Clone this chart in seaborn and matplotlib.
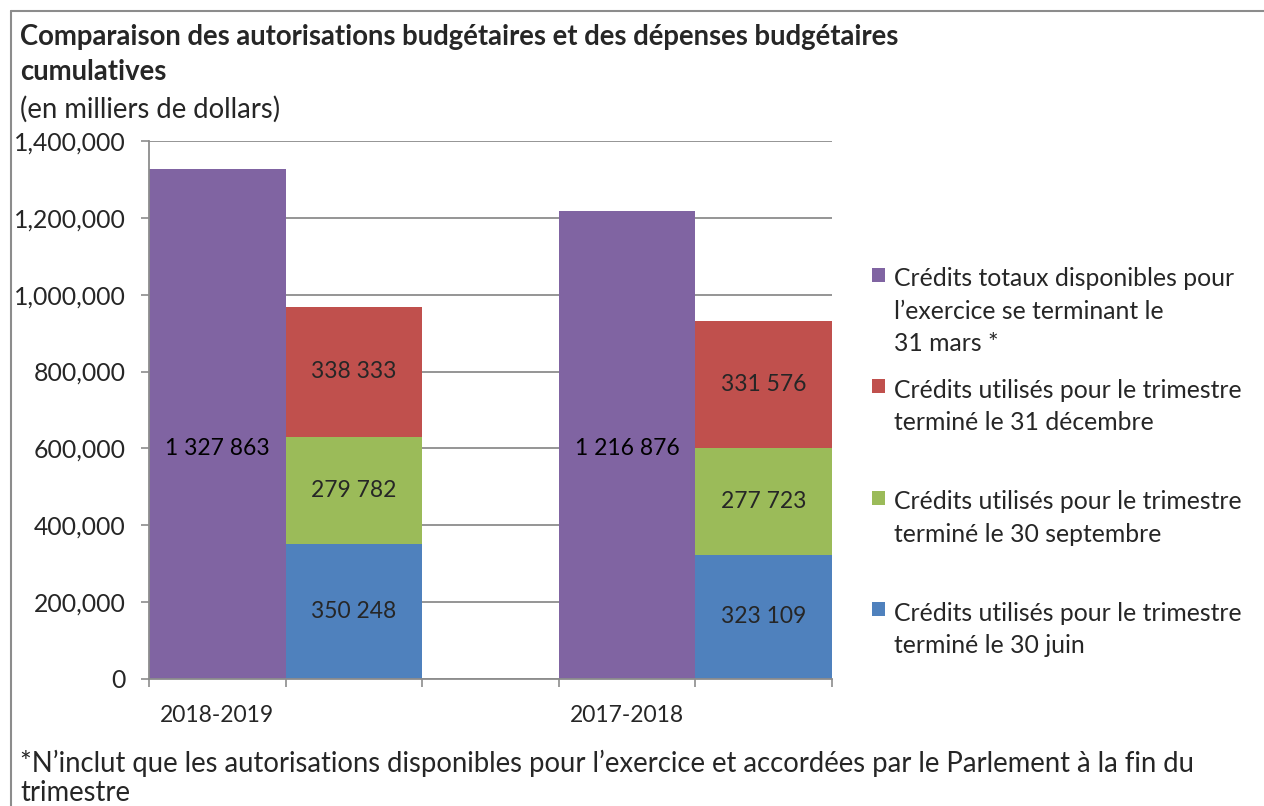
import numpy as np
import pandas as pd
import matplotlib
matplotlib.use("Agg")
import matplotlib.pyplot as plt
import seaborn as sns
from matplotlib.patches import Rectangle
from matplotlib.legend_handler import HandlerBase

# ---- data ----
years = ["2018-2019", "2017-2018"]
credits_totaux = [1327863, 1216876]
credits_juin = [350248, 323109]
credits_sept = [279782, 277723]
credits_dec = [338333, 331576]
y_ticks = [0, 200000, 400000, 600000, 800000, 1000000, 1200000, 1400000]

legend_labels = [
    "Crédits totaux disponibles pour\nl\u2019exercice se terminant le\n31 mars *",
    "Crédits utilisés pour le trimestre\nterminé le 31 décembre",
    "Crédits utilisés pour le trimestre\nterminé le 30 septembre",
    "Crédits utilisés pour le trimestre\nterminé le 30 juin",
]
c_purple, c_red, c_green, c_blue = "#8064A2", "#C0504D", "#9BBB59", "#4F81BD"

sns.set_theme(style="white")
plt.rcParams["font.family"] = ["Lato", "DejaVu Sans"]

fig = plt.figure(figsize=(12.64, 8.06), dpi=100)
ax = fig.add_axes([149 / 1264, 1 - 679 / 806, (832 - 149) / 1264, (679 - 141) / 806])

# slots: total bar, stacked bar, gap, total bar, stacked bar
slots = ["T0", "U0", "gap", "T1", "U1"]
tot_slots = ["T0", "T1"]
use_slots = ["U0", "U1"]

df_tot = pd.DataFrame({"slot": tot_slots, "val": credits_totaux})
juin = np.array(credits_juin)
sept = np.array(credits_sept)
dec = np.array(credits_dec)
df_stack = pd.DataFrame({
    "slot": use_slots,
    "juin": juin,
    "sept": juin + sept,
    "dec": juin + sept + dec,
})

common = dict(order=slots, width=1.0, errorbar=None, linewidth=0, ax=ax, zorder=3)
sns.barplot(data=df_tot, x="slot", y="val", color=c_purple, saturation=1, **common)
sns.barplot(data=df_stack, x="slot", y="dec", color=c_red, saturation=1, **common)
sns.barplot(data=df_stack, x="slot", y="sept", color=c_green, saturation=1, **common)
sns.barplot(data=df_stack, x="slot", y="juin", color=c_blue, saturation=1, **common)

def fmt(v):
    return f"{v:,}".replace(",", " ")

fs_lab = 16.5
fs_tick = 17.8
fs_title = 19.8
for i, s in enumerate(tot_slots):
    ax.text(slots.index(s), 600000, fmt(credits_totaux[i]), ha="center", va="center",
            fontsize=fs_lab, color="black", zorder=5)
for i, s in enumerate(use_slots):
    x = slots.index(s)
    ax.text(x, juin[i] / 2, fmt(juin[i]), ha="center", va="center", fontsize=fs_lab, zorder=5)
    ax.text(x, juin[i] + sept[i] / 2, fmt(sept[i]), ha="center", va="center", fontsize=fs_lab, zorder=5)
    ax.text(x, juin[i] + sept[i] + dec[i] / 2, fmt(dec[i]), ha="center", va="center", fontsize=fs_lab, zorder=5)

ax.set_xlim(-0.5, 4.5)
ax.set_ylim(0, 1400000)
ax.set_yticks(y_ticks)
ax.set_yticklabels([f"{v:,}" for v in y_ticks], fontsize=fs_tick)
ax.set_xticks(np.arange(-0.5, 5, 1.0))
ax.set_xticklabels([""] * 6)
ax.set_xticks([slots.index("T0"), slots.index("T1")], minor=True)
ax.set_xticklabels(years, minor=True, fontsize=fs_lab)
ax.tick_params(axis="x", which="minor", length=0, pad=19)
ax.tick_params(axis="x", which="major", length=6, width=1.2, color="#8c8c8c", direction="out", bottom=True)
ax.tick_params(axis="y", length=6, width=1.2, color="#8c8c8c", direction="out", left=True, pad=11)
ax.set_xlabel("")
ax.set_ylabel("")
ax.grid(axis="y", color="#8c8c8c", linewidth=1.3, zorder=0)
ax.set_axisbelow(True)
for sp in ["top", "right"]:
    ax.spines[sp].set_visible(False)
for sp in ["left", "bottom"]:
    ax.spines[sp].set_color("#8c8c8c")
    ax.spines[sp].set_linewidth(1.3)
    ax.spines[sp].set_zorder(4)

# legend with squares aligned to first line
class TopSquare(HandlerBase):
    def __init__(self, shift):
        super().__init__()
        self.shift = shift
    def create_artists(self, legend, orig_handle, xdescent, ydescent, width, height, fontsize, trans):
        size = fontsize * 0.56
        y0 = -ydescent + (height - size) / 2 + self.shift * fontsize
        r = Rectangle((width - size, y0), size, size, facecolor=orig_handle.get_facecolor(),
                      edgecolor="none", transform=trans)
        return [r]

handles = [Rectangle((0, 0), 1, 1, color=c) for c in [c_purple, c_red, c_green, c_blue]]
labs = [legend_labels[0]] + [l + "\n " for l in legend_labels[1:]]
leg = fig.legend(handles, labs, loc="upper left", bbox_to_anchor=(852 / 1264, 1 - 255 / 806),
                 frameon=False, fontsize=fs_tick, handlelength=0.85, handletextpad=0.35,
                 labelspacing=0.95, borderpad=0,
                 handler_map={h: TopSquare(1.52) for h in handles})
for t in leg.get_texts():
    t.set_linespacing(1.5)

# titles and note
fig.text(20 / 1264, 1 - 37 / 806, "Comparaison des autorisations budgétaires et des dépenses budgétaires",
         fontsize=fs_title, fontweight="bold", va="center", ha="left")
fig.text(20 / 1264, 1 - 72 / 806, "cumulatives", fontsize=fs_title, fontweight="bold", va="center", ha="left")
fig.text(20 / 1264, 1 - 109 / 806, "(en milliers de dollars)", fontsize=fs_title, va="center", ha="left")
fig.text(20 / 1264, 1 - 763 / 806,
         "*N\u2019inclut que les autorisations disponibles pour l\u2019exercice et accordées par le Parlement à la fin du",
         fontsize=fs_title, va="center", ha="left")
fig.text(20 / 1264, 1 - 793 / 806, "trimestre", fontsize=fs_title, va="center", ha="left")

# outer frame (top and left only visible)
fig.add_artist(plt.Line2D([11 / 1264, 1.0], [1 - 11 / 806, 1 - 11 / 806], color="#8c8c8c", lw=1.5,
                          transform=fig.transFigure))
fig.add_artist(plt.Line2D([11 / 1264, 11 / 1264], [0, 1 - 11 / 806], color="#8c8c8c", lw=1.5,
                          transform=fig.transFigure))

fig.savefig("out.png", dpi=100)
